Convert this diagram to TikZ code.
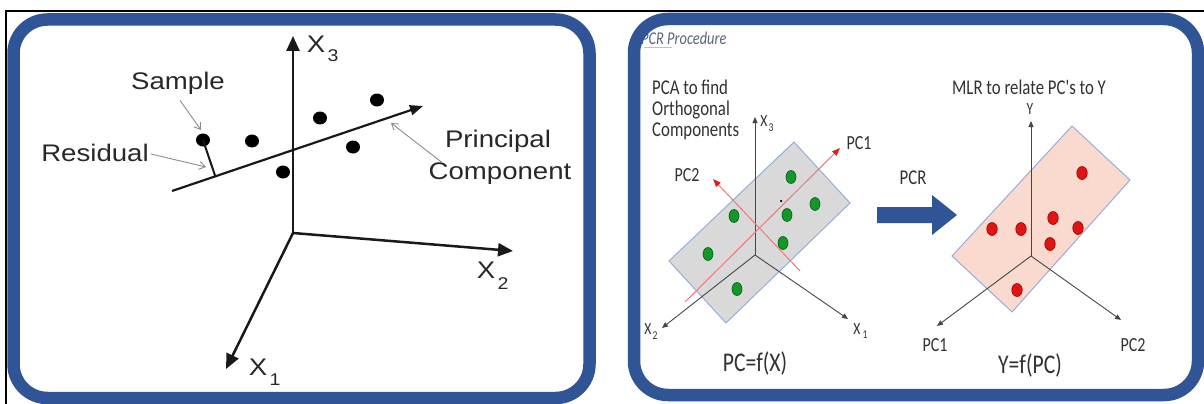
\documentclass[tikz,border=0pt]{standalone}
\usepackage{fontspec}
\setmainfont{Liberation Sans}
\newfontfamily\lfont[FakeStretch=1.15]{Liberation Sans}
\newfontfamily\rfont[FakeStretch=0.8]{Carlito}
\usetikzlibrary{arrows.meta,calc,shapes.geometric}
\newcommand\fsz[1]{\fontsize{#1}{#1}\selectfont}

\definecolor{frameblue}{RGB}{47,85,151}
\definecolor{ink}{RGB}{40,40,40}
\definecolor{rink}{RGB}{50,50,50}
\definecolor{axgray}{RGB}{70,70,70}
\definecolor{platefill}{RGB}{217,217,217}
\definecolor{pinkfill}{RGB}{250,217,206}
\definecolor{plateedge}{RGB}{142,169,219}
\definecolor{pcline}{RGB}{240,120,120}
\definecolor{pchead}{RGB}{225,30,30}
\definecolor{greendot}{RGB}{20,150,40}
\definecolor{greenedge}{RGB}{0,90,20}
\definecolor{reddot}{RGB}{225,20,20}
\definecolor{rededge}{RGB}{150,0,0}
\definecolor{proctext}{RGB}{90,100,125}

\tikzset{
  ltext/.style={font=\lfont\fsz{24}, text=ink, inner sep=0pt},
  lsub/.style={font=\lfont\fsz{17}, text=ink, inner sep=0pt},
  rtext/.style={font=\rfont\fsz{20}, text=rink, inner sep=0pt},
  rbig/.style={font=\rfont\fsz{27}, text=rink, inner sep=0pt},
  rsmall/.style={font=\rfont\fsz{17}, text=rink, inner sep=0pt},
  rsub/.style={font=\rfont\fsz{12}, text=rink, inner sep=0pt},
  bigaxis/.style={draw=black!90, line width=2.5pt, -{Triangle[length=15pt,width=13pt]}},
  pcarrow/.style={draw=black!90, line width=2.2pt, -{Triangle[length=13pt,width=10pt]}},
  notearrow/.style={draw=black!45, line width=0.9pt, -{Straight Barb[length=6pt,width=8pt]}},
  smallaxis/.style={draw=axgray, line width=0.9pt, -{Triangle[length=6pt,width=5pt]}},
  pcaxis/.style={draw=pcline, line width=1pt, -{Triangle[length=8pt,width=6pt,color=pchead]}},
  bdot/.style={ellipse, fill=black, minimum width=14pt, minimum height=13pt, inner sep=0pt},
  gdot/.style={ellipse, fill=greendot, draw=greenedge, line width=0.6pt, minimum width=10pt, minimum height=13pt, inner sep=0pt},
  rdot/.style={ellipse, fill=reddot, draw=rededge, line width=0.6pt, minimum width=10.5pt, minimum height=13pt, inner sep=0pt},
  panel/.style={draw=frameblue, line width=12.5pt, rounded corners=34pt},
}

\begin{document}
\begin{tikzpicture}[x=1pt,y=-1pt]
\useasboundingbox (0,0) rectangle (1204,404);
\fill[white] (0,0) rectangle (1204,404);

% outer black frame lines
\draw[line width=2pt] (6,404) -- (6,11.5) -- (1204,11.5);

% ---------------- left panel: principal component in 3-D ----------------
\coordinate (o) at (293,233);
\coordinate (x3) at (293,36);
\coordinate (x2) at (513,251);
\coordinate (x1) at (226,369);
\draw[bigaxis] (o) -- (x3);
\draw[bigaxis] (o) -- (x2);
\draw[bigaxis] (o) -- (x1);

\node[ltext] (lx3) at (316,44) {X};
\node[lsub] (lx3s) at (333,56) {3};
\node[ltext] (lx2) at (486,270) {X};
\node[lsub] (lx2s) at (503,284) {2};
\node[ltext] (lx1) at (258,367) {X};
\node[lsub] (lx1s) at (275,380) {1};

\coordinate (pa) at (172,191);
\coordinate (pb) at (423,106);
\draw[pcarrow] (pa) -- (pb);

\node[bdot] (s1) at (203,140) {};
\node[bdot] (s2) at (252,141) {};
\node[bdot] (s3) at (283,172) {};
\node[bdot] (s4) at (320,118) {};
\node[bdot] (s5) at (353,147) {};
\node[bdot] (s6) at (377,100) {};

% residual from the first sample to the component line
\coordinate (foot) at ($(pa)!(s1)!(pb)$);
\draw[black!90, line width=2pt] (s1.center) -- (foot);

\node[ltext] (sample) at (178,83) {Sample};
\node[ltext] (resid) at (95,153) {Residual};
\node[ltext] (princ) at (498,141) {Principal};
\node[ltext] (comp) at (500,174) {Component};

\coordinate (sampletip) at (201,130);
\coordinate (residtip) at (206,167);
\coordinate (pctip) at (391,123);
\draw[notearrow] (sample.south) ++(2,6) -- (sampletip);
\draw[notearrow] (resid.east) ++(2,1) -- (residtip);
\draw[notearrow] (princ.south west) ++(-3,10) -- (pctip);

% ---------------- right panel: PCR procedure ----------------
\node[font=\rfont\itshape\fsz{18}, text=proctext, inner sep=0pt, anchor=west] (proc) at (641,38) {PCR Procedure};
\draw[black!25, line width=0.8pt] (644,47) -- (672,47);

\node[rtext, anchor=west, align=left, font=\rfont\fsz{21}, text=rink] (pca) at (652,110)
  {\fontsize{21}{23.5}\selectfont PCA to find\\Orthogonal\\Components};

% grey plane of the original variables
\coordinate (ga) at (794,142);
\coordinate (gb) at (850,203);
\coordinate (gc) at (726,323);
\coordinate (gd) at (669,261);
\filldraw[fill=platefill, draw=plateedge, line width=0.9pt] (ga) -- (gb) -- (gc) -- (gd) -- cycle;

\coordinate (o1) at (755,255);
\coordinate (r3) at (755,117);
\coordinate (r2) at (662,328);
\coordinate (r1) at (848,319);
\draw[smallaxis] (o1) -- (r3);
\draw[smallaxis] (o1) -- (r2);
\draw[smallaxis] (o1) -- (r1);

\node[rsmall] (rx3) at (764,121) {X};
\node[rsub] (rx3s) at (771,128) {3};
\node[rsmall] (rx2) at (648,329) {X};
\node[rsub] (rx2s) at (655,336) {2};
\node[rsmall] (rx1) at (857,329) {X};
\node[rsub] (rx1s) at (865,335) {1};

\coordinate (p1a) at (685,302);
\coordinate (p1b) at (840,148);
\coordinate (p2a) at (800,271);
\coordinate (p2b) at (713,179);
\draw[pcaxis] (p1a) -- (p1b);
\draw[pcaxis] (p2a) -- (p2b);
\node[rtext] (lpc1) at (859,143) {PC1};
\node[rtext] (lpc2) at (687,175) {PC2};

\node[gdot] (g1) at (791,177) {};
\node[gdot] (g2) at (815,204) {};
\node[gdot] (g3) at (787,215) {};
\node[gdot] (g4) at (734,216) {};
\node[gdot] (g5) at (783,243) {};
\node[gdot] (g6) at (708,254) {};
\node[gdot] (g7) at (737,289) {};
\node[circle, fill=black, minimum size=2.5pt, inner sep=0pt] (g0) at (781,201) {};

\node[rbig] (pcfx) at (755,363) {PC=f(X)};

% transition arrow
\node[font=\rfont\fsz{21}, text=rink, inner sep=0pt] (pcr) at (913,178) {PCR};
\fill[frameblue] (877,207) -- (932,207) -- (932,195) -- (957,215) -- (932,235) -- (932,223) -- (877,223) -- cycle;

\node[font=\rfont\fsz{21}, text=rink, inner sep=0pt] (mlr) at (1029,87) {MLR to relate PC's to Y};

% pink plane of the principal components
\coordinate (qa) at (1072,126);
\coordinate (qb) at (1130,180);
\coordinate (qc) at (1012,312);
\coordinate (qd) at (952,256);
\filldraw[fill=pinkfill, draw=plateedge, line width=0.9pt] (qa) -- (qb) -- (qc) -- (qd) -- cycle;

\coordinate (o2) at (1031,256);
\coordinate (ty) at (1031,121);
\coordinate (tp1) at (937,326);
\coordinate (tp2) at (1121,320);
\draw[smallaxis] (o2) -- (ty);
\draw[smallaxis] (o2) -- (tp1);
\draw[smallaxis] (o2) -- (tp2);
\node[rsmall] (ly) at (1030,109) {Y};
\node[rtext] (rpc1) at (935,345) {PC1};
\node[rtext] (rpc2) at (1133,345) {PC2};

\node[rdot] (d1) at (1082,173) {};
\node[rdot] (d2) at (992,229) {};
\node[rdot] (d3) at (1021,229) {};
\node[rdot] (d4) at (1053,218) {};
\node[rdot] (d5) at (1078,228) {};
\node[rdot] (d6) at (1050,244) {};
\node[rdot] (d7) at (1017,290) {};

\node[rbig] (yfpc) at (1030,365) {Y=f(PC)};

% rounded panel borders on top
\draw[panel] (13.5,19.5) rectangle (589.5,398);
\draw[panel] (634,19) rectangle (1198,395);
\end{tikzpicture}
\end{document}
